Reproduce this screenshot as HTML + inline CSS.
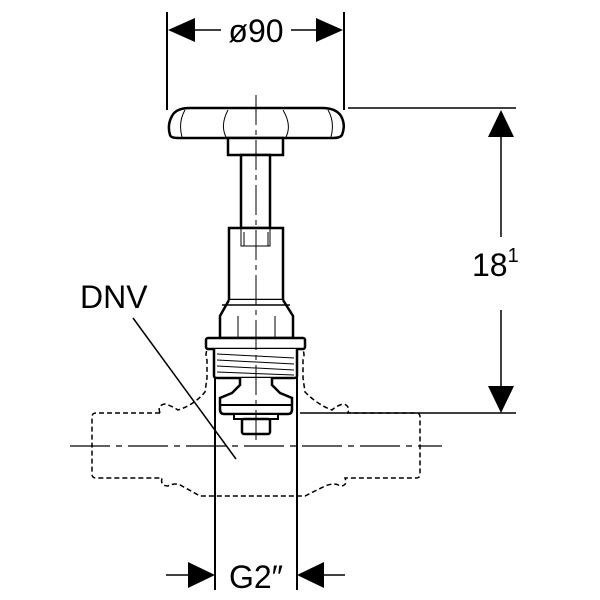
<!DOCTYPE html>
<html><head><meta charset="utf-8"><style>body{margin:0;background:#fff}svg{display:block}</style></head>
<body>
<svg width="600" height="600" viewBox="0 0 600 600" xmlns="http://www.w3.org/2000/svg" font-family="Liberation Sans, sans-serif">
<rect width="600" height="600" fill="#fff"/>
<g stroke="#000" fill="none">
<line x1="167" y1="12" x2="167" y2="110" stroke-width="2"/>
<line x1="344" y1="12" x2="344" y2="110" stroke-width="2"/>
<line x1="190" y1="30" x2="221" y2="30" stroke-width="1.5"/>
<line x1="291" y1="30" x2="320" y2="30" stroke-width="1.5"/>
<line x1="348" y1="108" x2="516" y2="108" stroke-width="1.5"/>
<line x1="300" y1="413" x2="516" y2="413" stroke-width="1.5"/>
<line x1="501" y1="130" x2="501" y2="237" stroke-width="1.5"/>
<line x1="501" y1="310" x2="501" y2="392" stroke-width="1.5"/>
<line x1="215" y1="345" x2="215" y2="590" stroke-width="2"/>
<line x1="297" y1="345" x2="297" y2="590" stroke-width="2"/>
<line x1="166" y1="575" x2="195" y2="575" stroke-width="1.5"/>
<line x1="318" y1="575" x2="345" y2="575" stroke-width="1.5"/>
<line x1="133" y1="318" x2="236" y2="459" stroke-width="1.5"/>
<line x1="70" y1="446" x2="442" y2="446" stroke-width="1.2" stroke-dasharray="40,6,6,6"/>
<path d="M160 413 H96 Q92 413 92 417 V474 Q92 478 96 478 H162 Q160 486 168 486 Q176 482 182 486 L200 496 H305 L325 486 Q335 482 340 486 Q348 486 345 478 H416 Q420 478 420 474 V417 Q420 413 416 413 H348 Q350 405 343 404 Q336 406 332 410 Q318 405 305 392 L303 378 V360 Q305 355 303 350"
 stroke-width="1.5" stroke-dasharray="5,3"/>
<path d="M160 413 Q157 405 165 404 Q172 406 178 410 Q194 405 205 392 L207 378 V360 Q205 355 207 350" stroke-width="1.5" stroke-dasharray="5,3"/>
<path d="M170 135 Q167 125 172 116 Q176 108 190 108 H322 Q336 108 341 116 Q346 125 342 135 Q340 138 333 138 H178 Q171 138 170 135 Z" stroke-width="2.5" fill="#fff"/>
<path d="M185 110 Q178 122 182 137 M328 110 Q335 122 331 137 M228 110 Q220 125 226 137 M283 110 Q292 125 286 137" stroke-width="1"/>
<rect x="228" y="138" width="55" height="17" stroke-width="2.5" fill="#fff"/>
<rect x="241" y="155" width="29" height="73" stroke-width="2.5" fill="#fff"/>
<rect x="229" y="228" width="54" height="72" stroke-width="2.5" fill="#fff"/>
<path d="M241 228 V246 H270 V228 M244 246 V232 M268 246 V232" stroke-width="1"/>
<path d="M229 300 L220 316 V338 H293 V316 L283 300" stroke-width="2.5" fill="#fff"/>
<line x1="222" y1="305" x2="290" y2="305" stroke-width="1.5"/>
<path d="M238 316 V338 M275 316 V338" stroke-width="1"/>
<rect x="206" y="338" width="99" height="11" rx="2" stroke-width="2.5" fill="#fff"/>
<path d="M214 349 V376 Q214 378 218 378 H294 Q297 378 297 376 V349" stroke-width="2.5" fill="#fff"/>
<path d="M217 354 L294 358 M217 360 L294 364 M217 366 L294 370 M217 372 L294 375" stroke-width="1"/>
<path d="M240 378 V385 L232 393 L220 398 V409 Q220 414 224 414 H288 Q292 414 292 409 V398 L280 393 L272 385 V378" stroke-width="2.5" fill="#fff"/>
<line x1="221" y1="405" x2="291" y2="405" stroke-width="2"/>
<rect x="234" y="414" width="44" height="5" stroke-width="2" fill="#fff"/>
<rect x="242" y="419" width="28" height="15" rx="2" stroke-width="2.5" fill="#fff"/>
<line x1="256" y1="95" x2="256" y2="440" stroke-width="1" stroke-dasharray="30,5,5,5"/>
</g>
<g fill="#000">
<polygon points="168,30 195,18 195,42"/>
<polygon points="343,30 316,18 316,42"/>
<polygon points="501,110 488,137 514,137"/>
<polygon points="501,413 488,386 514,386"/>
<polygon points="215,575 188,562 188,588"/>
<polygon points="297,575 324,562 324,588"/>
</g>
<g font-size="32" fill="#000">
<text x="256" y="42" text-anchor="middle">ø90</text>
<text x="472" y="276">18<tspan font-size="20" dy="-14">1</tspan></text>
<text x="80" y="308">DNV</text>
<text x="256" y="588" text-anchor="middle">G2″</text>
</g>
</svg>
</body></html>
